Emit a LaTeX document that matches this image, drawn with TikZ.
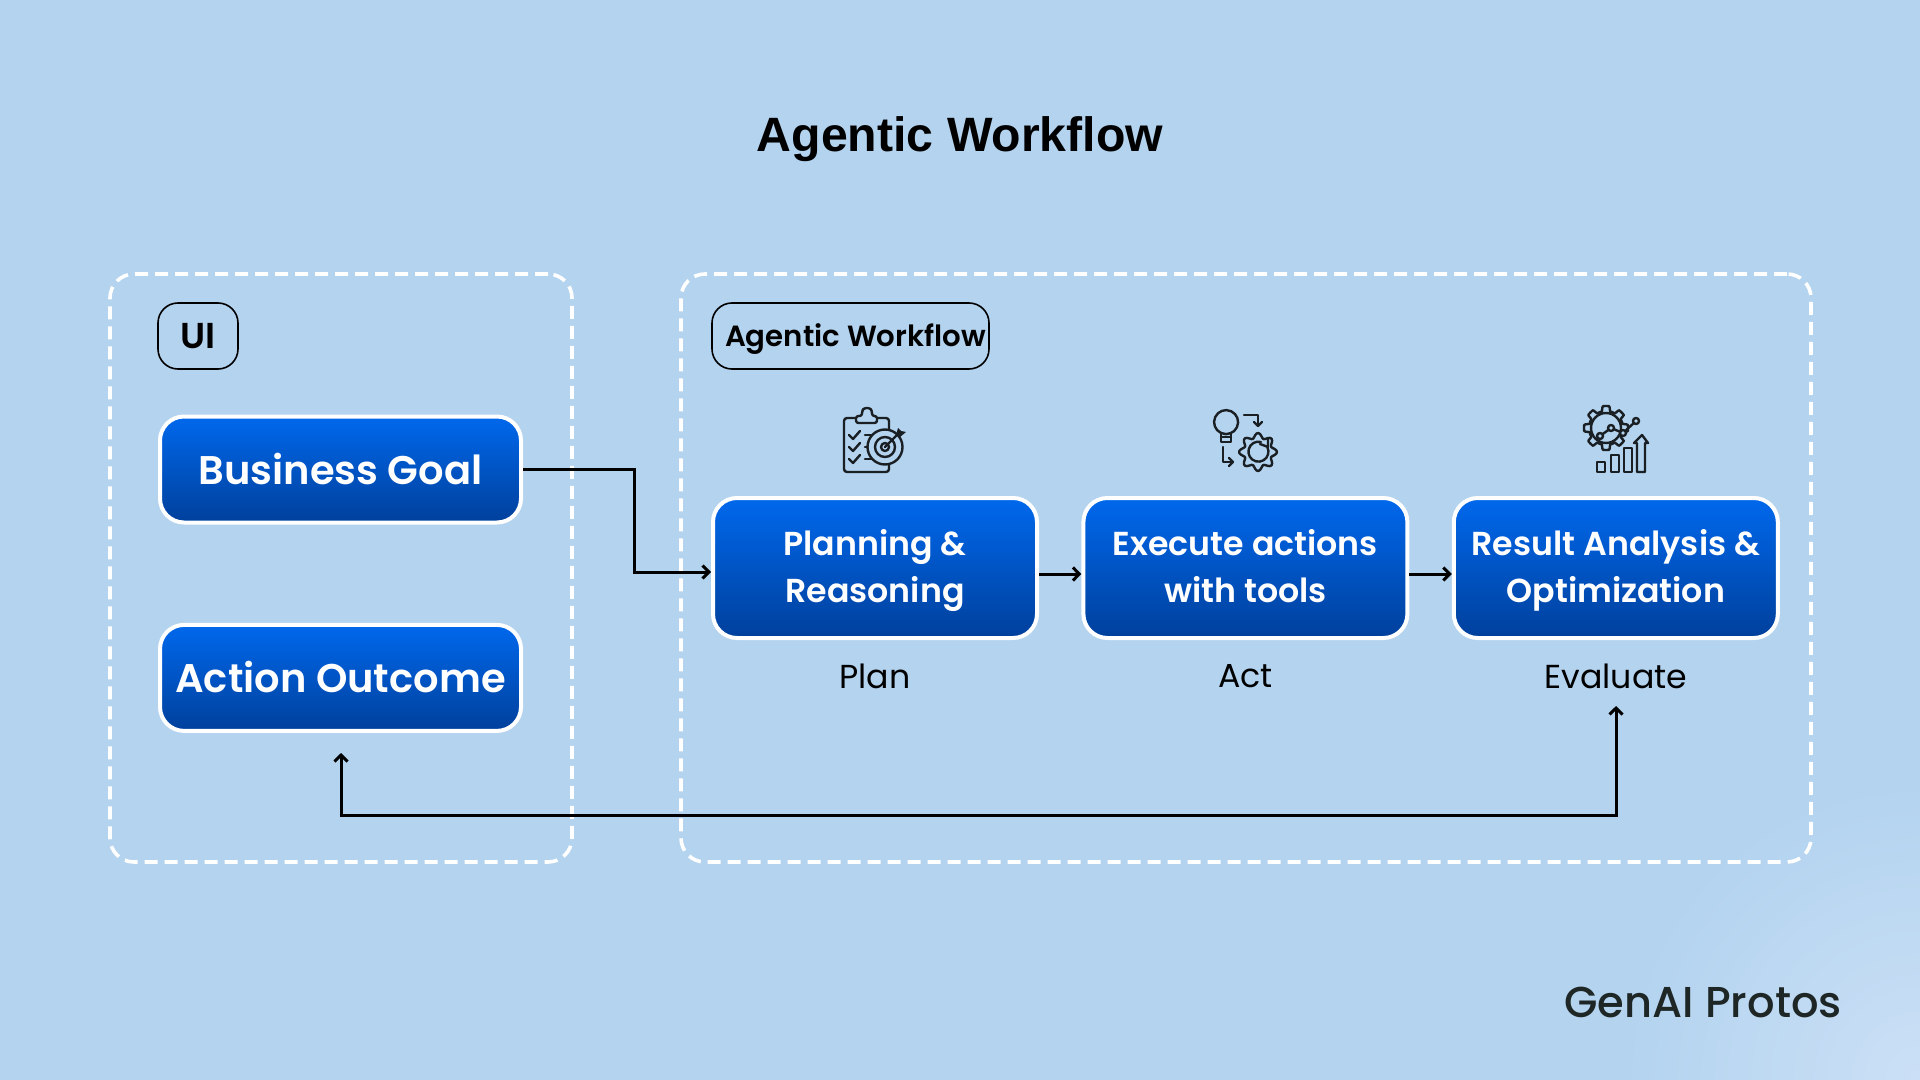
\documentclass[tikz,border=0pt]{standalone}
\usepackage{fontspec}
\usepackage{tikz}
\usetikzlibrary{arrows.meta}
\usetikzlibrary{positioning}
\setmainfont{Poppins}
\newfontfamily\popsemi{Poppins SemiBold}
\newfontfamily\popmed{Poppins Medium}
\newfontfamily\titlefont{Liberation Sans}
\definecolor{bgblue}{HTML}{B3D3EF}
\definecolor{bglight}{HTML}{CBE0F6}
\definecolor{boxtop}{HTML}{0068EC}
\definecolor{boxbot}{HTML}{00409C}
\definecolor{logoink}{HTML}{1E2726}
\definecolor{iconink}{HTML}{1A1F24}

\begin{document}
\begin{tikzpicture}[
x=0.5pt,y=-0.5pt,
dashbox/.style={
draw=white,
line width=1.8pt,
dash pattern=on 6.5pt off 3.5pt,
rounded corners=12pt,
inner sep=0pt},
chip/.style={
draw=black,
line width=0.8pt,
rounded corners=10pt,
inner sep=0pt,
minimum height=33pt},
goalbox/.style={
draw=white,
line width=2pt,
rounded corners=12pt,
top color=boxtop,
bottom color=boxbot,
text=white,
inner sep=0pt,
text height=15pt,
text depth=0.2pt,
minimum width=180.5pt,
minimum height=53pt,
font=\popsemi\fontsize{20}{24}\selectfont},
stepbox/.style={
draw=white,
line width=2pt,
rounded corners=12pt,
top color=boxtop,
bottom color=boxbot,
text=white,
align=center,
inner sep=0pt,
text height=39.6pt,
text depth=5pt,
minimum width=162pt,
minimum height=70pt,
font=\popsemi\fontsize{16.6}{23.6}\selectfont},
steplabel/.style={font=\fontsize{16.6}{20}\selectfont,inner sep=0pt},
myarrow/.style={line width=1.5pt,-{Straight Barb[length=3.2pt,width=6.5pt]}},
iconline/.style={draw=iconink,line width=1.2pt,line join=round,line cap=round},
node distance=21.2pt
]
% page
\useasboundingbox (0,0) rectangle (1920,1080);
\fill[bgblue] (0,0) rectangle (1920,1080);
\begin{scope}
\clip (0,0) rectangle (1920,1080);
\shade[inner color=bglight,outer color=bgblue] (1920,1080) circle (300);
\end{scope}
\node[font=\titlefont\bfseries\fontsize{24.1}{28}\selectfont,inner sep=0pt] (title) at (960,139) {Agentic Workflow};
% frames
\node[dashbox,minimum width=231pt,minimum height=294pt] (uiframe) at (341,568) {};
\node[dashbox,minimum width=565pt,minimum height=294pt] (agentframe) at (1246,568) {};
\node[chip,minimum width=40pt,font=\popsemi\fontsize{18}{22}\selectfont] (uichip) at (198,336) {UI};
\node[chip,minimum width=138.5pt,text depth=1pt,font=\popsemi\fontsize{14.6}{18}\selectfont] (agentchip) at (850.5,336) {\hspace{5pt}Agentic Workflow};
% boxes
\node[goalbox] (goal) at (340.5,469.5) {Business Goal};
\node[goalbox,below=49.2pt of goal] (outcome) {Action Outcome};
\node[stepbox] (planning) at (875,568) {Planning \&\\Reasoning};
\node[stepbox,right=of planning] (execute) {Execute actions\\with tools};
\node[stepbox,right=of execute] (result) {Result Analysis \&\\Optimization};
\node[steplabel,below=12pt of planning] (plan) {Plan};
\node[steplabel,below=12pt of execute] (act) {Act};
\node[steplabel,below=12pt of result] (evaluate) {Evaluate};
% connectors
\coordinate (elbow) at (634,572);
\coordinate (outcomeend) at (341,753);
\coordinate (evalend) at (1616,706);
\coordinate (bottomrun) at (1000,815);
\draw[myarrow] (goal.east) -| (elbow) -- ([yshift=-2pt]planning.west);
\foreach \i/\j in {planning/execute,execute/result}
  \draw[myarrow] ([yshift=-3pt]\i.east) -- ([yshift=-3pt]\j.west);
\draw[line width=1.5pt,{Straight Barb[length=3.2pt,width=6.5pt]}-{Straight Barb[length=3.2pt,width=6.5pt]}] (outcomeend) |- (bottomrun) -| (evalend);
% plan icon
\draw[iconline,rounded corners=1.5pt] (844,418) rectangle (889,472);
\draw[iconline,fill=bgblue,rounded corners=1.2pt] (856,423) -- (856,416) -- (862,416) -- (862,411) -- (864,408) -- (870,408) -- (872,411) -- (872,416) -- (877,416) -- (877,423) -- cycle;
\foreach \y in {435,447,459} {
  \draw[iconline] (849,\y) -- (853,\y+4) -- (860,\y-4);
  \draw[iconline] (865,\y) -- (875,\y);
}
\draw[iconline,fill=bgblue] (885,447) circle (17.5);
\draw[iconline] (885,447) circle (10);
\draw[iconline] (885,447) circle (4);
\draw[iconline] (885,447) -- (897,435);
\fill[iconink] (896,435) -- (898,428) -- (901,431) -- (906,432) -- (900,437) -- cycle;
% act icon
\draw[iconline] (1221,433) arc[start angle=115,end angle=-295,radius=12];
\draw[iconline] (1221,433) -- (1221,442) -- (1231,442) -- (1231,433);
\draw[iconline] (1221,437) -- (1231,437);
\draw[iconline] (1244,415) -- (1258,415) -- (1258,425);
\draw[iconline] (1254,422) -- (1258,426) -- (1262,422);
\draw[iconline] (1223,447) -- (1223,462) -- (1233,462);
\draw[iconline] (1229,458) -- (1233,462) -- (1229,466);
\draw[iconline] plot[smooth cycle,samples=65,domain=0:354.4] ({1258+(16.5+2.5*cos(8*\x))*cos(\x)},{452+(16.5+2.5*cos(8*\x))*sin(\x)});
\draw[iconline] (1261,442) arc[start angle=-75,end angle=-385,radius=10];
\draw[iconline] (1260,444) -- (1268,447) -- (1268,439);
% evaluate icon
\draw[iconline] plot[samples=181,domain=0:360] ({1606+(19.5+max(-2.5,min(2.5,8*cos(8*\x))))*cos(\x)},{428+(19.5+max(-2.5,min(2.5,8*cos(8*\x))))*sin(\x)});
\draw[iconline] (1606,428) circle (15);
\draw[iconline] (1600,436) -- (1611,428) -- (1623,433) -- (1636,421);
\foreach \cx/\cy in {1600/436,1611/428,1623/433,1636/421}
  \draw[iconline,fill=bgblue] (\cx,\cy) circle (3);
\draw[iconline] (1597,462) rectangle (1605,472);
\draw[iconline] (1611,455) rectangle (1619,472);
\draw[iconline] (1624,448) rectangle (1632,472);
\draw[iconline] (1637,472) -- (1637,443) -- (1634,443) -- (1642,435) -- (1648,443) -- (1645,443) -- (1645,472) -- cycle;
% logo
\node[font=\popmed\fontsize{21.6}{26}\selectfont,text=logoink,inner sep=0pt] (logo) at (1703,1002) {GenAI Protos};
\end{tikzpicture}
\end{document}
